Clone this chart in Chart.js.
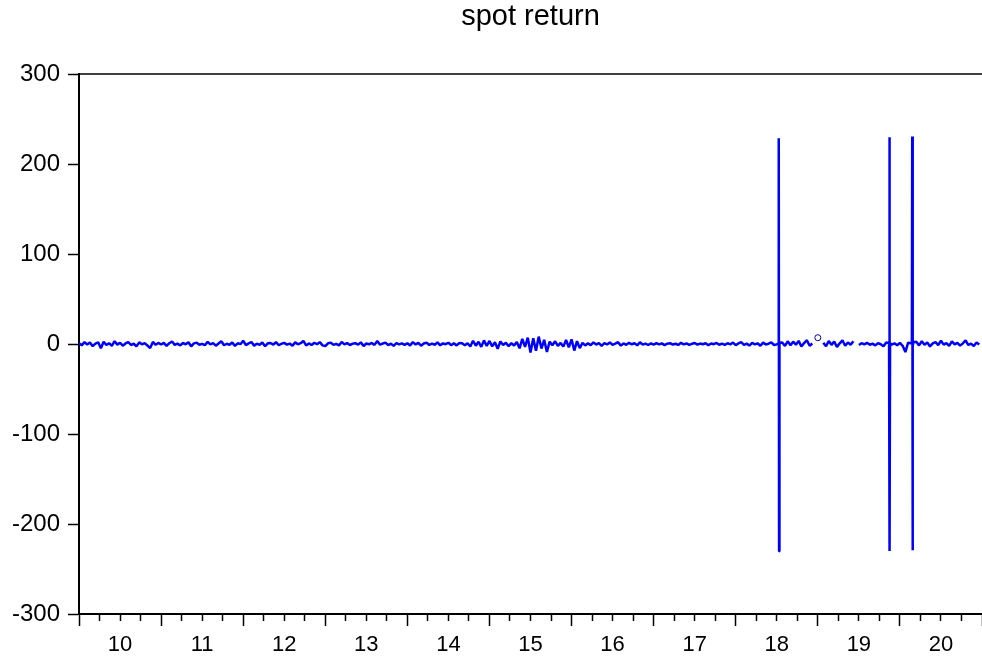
<!DOCTYPE html>
<html>
<head>
<meta charset="utf-8">
<script src="https://cdn.jsdelivr.net/npm/chart.js@4"></script>
<style>
  body { margin: 0; background: #fff; }
  canvas { display: block; }
</style>
</head>
<body>
<canvas id="myChart" width="982" height="661"></canvas>
<script>
(() => {
    "use strict";

    const ret2010 = [0.8, -1.5, 2.1, -0.6, 1.7, -2.4, 0.5, 1.9, -4.8, 2.6, -1.2, 0.9, -2.0, 3.1, -0.7, 1.4, -1.9, 0.6, 2.2, -1.1, 0.3, -2.6, 1.8, -0.4, 1.0, -1.7, -4.5, 2.3, -0.9, 1.2];
    const ret2011 = [-0.6, 1.3, -2.2, 0.9, 2.8, -1.0, 0.4, -1.6, 1.1, -0.3, 2.0, -2.7, 0.7, 1.5, -0.8, 0.2, -1.3, 2.4, -0.5, 1.0, -1.9, 0.6, 3.0, -1.4, 0.3, -0.9, 1.7, -2.1, 0.8, -0.2];
    const ret2012 = [3.6, -1.2, 0.7, 2.2, -1.8, 0.4, -0.9, 1.6, -2.5, 0.8, 1.1, -0.6, 2.0, -1.4, 0.3, 1.2, -0.7, 0.5, -2.0, 1.8, -0.4, 0.9, 3.4, -1.6, 0.6, -1.1, 1.4, -0.3, 2.1, -1.5];
    const ret2013 = [-2.4, 0.8, 1.5, -0.9, 0.2, -1.6, 2.3, -0.5, 1.0, -1.2, 0.4, 0.9, -0.7, 1.8, -2.2, 0.6, -0.3, 1.2, -1.0, 3.3, -0.8, 0.5, 1.6, -1.3, 0.3, -2.1, 1.1, -0.4, 0.7, -1.0];
    const ret2014 = [0.9, -1.7, 2.1, -0.6, 1.3, -1.9, 0.5, 1.6, -1.1, 0.4, -0.8, 1.8, -1.5, 0.7, -0.2, 1.4, -1.3, 0.9, -1.6, 1.2, 0.8, -1.4, 0.9, -2.8, 3.6, -1.9, 2.5, -3.2, 4.0, -2.2];
    const ret2015 = [3.4, -2.6, 1.9, -5.3, 2.8, -1.2, 1.5, -2.4, 0.9, -1.7, 2.2, -4.8, 5.6, -3.2, 7.1, -9.4, 6.3, -7.6, 8.2, -5.1, 4.7, -8.8, 2.6, -1.4, 3.0, -2.1, 1.2, -2.9, 4.5, -3.8];
    const ret2016 = [5.2, -7.3, 3.1, -4.6, 1.2, -1.6, 0.7, -1.3, 1.8, -0.6, 1.1, -2.0, 0.9, -0.5, 1.7, -1.0, 0.4, 2.0, -1.8, 0.6, -0.9, 1.3, -0.3, 0.8, -1.5, 2.0, -0.7, 0.5, -1.1, 0.6];
    const ret2017 = [-0.8, 1.0, -0.5, 0.7, -1.2, 0.4, 0.9, -0.6, 0.3, -1.0, 1.3, -0.4, 0.6, -0.9, 0.2, 1.1, -0.7, 0.5, -0.3, 0.8, -1.4, 0.6, -0.2, 1.2, -0.8, 0.4, -1.1, 0.9, -0.5, 1.6];
    const ret2018 = [-1.3, 0.7, 2.1, -0.9, 0.4, -1.7, 1.2, -0.5, 0.8, -2.0, 1.5, -0.6, 0.3, 1.9, -1.1, -0.4, 1.3, 1.6, -2.2, 3.0, -1.4, 2.6, -0.8, 3.5, -2.7, 1.1, 4.2, -1.9, 0.6, null];
    const ret2019 = [7.0, null, 1.4, -2.5, 3.3, -1.0, 2.7, -3.4, 0.8, 4.1, -2.0, 1.6, -0.7, 3.0, null, -1.2, 0.9, -0.5, 1.3, -0.8, 0.4, -1.5, 1.0, -0.3, -2.6, 1.7, 1.1, -0.6, 0.8, -1.4];
    const ret2020 = [1.2, -2.0, -9.0, 1.5, 0.9, 2.0, 2.4, -1.6, 3.1, -0.9, 1.8, -2.7, 0.6, 2.2, -1.3, 3.6, -0.7, 1.0, -2.1, 2.9, -0.4, 1.3, -1.8, 0.7, 4.0, -1.1, 0.5, -2.3, 1.6, -0.6];

    // the three price jumps: consecutive daily returns from the given date
    const spikeDates = [2018.520, 2019.868, 2020.146];
    const spikeRuns = [
        [0.6, 228.5, -230.4, 1.2],
        [-0.8, 229.6, -230.1, 0.9],
        [1.1, 230.6, -229.3, -1.5],
    ];

    const years = [2010, 2011, 2012, 2013, 2014, 2015, 2016, 2017, 2018, 2019, 2020];
    const yearData = [ret2010, ret2011, ret2012, ret2013, ret2014, ret2015, ret2016, ret2017, ret2018, ret2019, ret2020];
    const yearLabels = ["10", "11", "12", "13", "14", "15", "16", "17", "18", "19", "20"];
    const yTicks = [-300, -200, -100, 0, 100, 200, 300];
    const tradingDay = 1 / 250;

    // observations spread evenly through each year
    const points = [];
    years.forEach((yr, k) => {
        const arr = yearData[k];
        arr.forEach((v, j) => points.push({ x: yr + j / arr.length, y: v }));
    });
    spikeDates.forEach((d, k) => {
        spikeRuns[k].forEach((v, j) => points.push({ x: d + j * tradingDay, y: v }));
    });
    points.sort((a, b) => a.x - b.x);

    const isLonely = (i) => {
        const p = points[i];
        if (!p || p.y === null) return false;
        const prev = points[i - 1], next = points[i + 1];
        return (!prev || prev.y === null) && (!next || next.y === null);
    };

    const fontFamily = "'Liberation Sans', Arial, sans-serif";

    const topLine = {
        id: "topLine",
        afterDraw(chart) {
            const { ctx, chartArea } = chart;
            ctx.save();
            ctx.strokeStyle = "#000";
            ctx.lineWidth = 1.5;
            ctx.beginPath();
            ctx.moveTo(chartArea.left, chartArea.top);
            ctx.lineTo(chartArea.right, chartArea.top);
            ctx.stroke();
            ctx.restore();
        },
    };

    const ctx = document.getElementById("myChart");

    new Chart(ctx, {
        type: "line",
        data: {
            datasets: [
                {
                    data: points,
                    borderColor: "#0000ff",
                    borderWidth: 2.5,
                    borderJoinStyle: "bevel",
                    tension: 0,
                    spanGaps: false,
                    pointRadius: (c) => (isLonely(c.dataIndex) ? 3 : 0),
                    pointBorderWidth: 1,
                    pointBorderColor: "#0000aa",
                    pointBackgroundColor: "#ffffff",
                },
            ],
        },
        options: {
            responsive: false,
            animation: false,
            layout: { padding: 0, autoPadding: false },
            plugins: {
                legend: { display: false },
                tooltip: { enabled: false },
                title: {
                    display: true,
                    text: "spot return",
                    color: "#000",
                    fullSize: false,
                    font: { family: fontFamily, size: 29, weight: "normal", lineHeight: 1.2 },
                    padding: { top: 0, bottom: 39.2 },
                },
            },
            scales: {
                x: {
                    type: "linear",
                    min: years[0],
                    max: years[years.length - 1] + 1,
                    afterBuildTicks: (scale) => {
                        const ticks = [];
                        years.forEach((yr) => {
                            [0, 0.25, 0.5, 0.75].forEach((q) => ticks.push({ value: yr + q }));
                        });
                        ticks.push({ value: years[years.length - 1] + 1 });
                        scale.ticks = ticks;
                    },
                    afterFit: (scale) => {
                        scale.height = 47;
                        scale.paddingLeft = 0;
                        scale.paddingRight = 0;
                    },
                    border: { color: "#000", width: 2 },
                    grid: {
                        drawOnChartArea: false,
                        drawTicks: true,
                        tickLength: 12,
                        tickWidth: 1.5,
                        tickColor: "#000",
                        tickBorderDash: (c) => {
                            const v = c.tick ? c.tick.value : 0;
                            return Math.abs(v - Math.round(v)) < 1e-6 ? [] : [6, 40];
                        },
                    },
                    ticks: {
                        autoSkip: false,
                        maxRotation: 0,
                        color: "#000",
                        padding: 6,
                        font: { family: fontFamily, size: 22 },
                        callback: (value) => {
                            const frac = value - Math.floor(value);
                            if (Math.abs(frac - 0.5) > 1e-6) return "";
                            const idx = years.indexOf(Math.floor(value));
                            return idx >= 0 ? yearLabels[idx] : "";
                        },
                    },
                },
                y: {
                    min: yTicks[0],
                    max: yTicks[yTicks.length - 1],
                    afterBuildTicks: (scale) => {
                        scale.ticks = yTicks.map((v) => ({ value: v }));
                    },
                    afterFit: (scale) => { scale.width = 79; },
                    border: { color: "#000", width: 2 },
                    grid: {
                        drawOnChartArea: false,
                        drawTicks: true,
                        tickLength: 11,
                        tickWidth: 1.5,
                        tickColor: "#000",
                    },
                    ticks: {
                        color: "#000",
                        padding: 8,
                        font: { family: fontFamily, size: 24 },
                    },
                },
            },
        },
        plugins: [topLine],
    });
})();
</script>
</body>
</html>
